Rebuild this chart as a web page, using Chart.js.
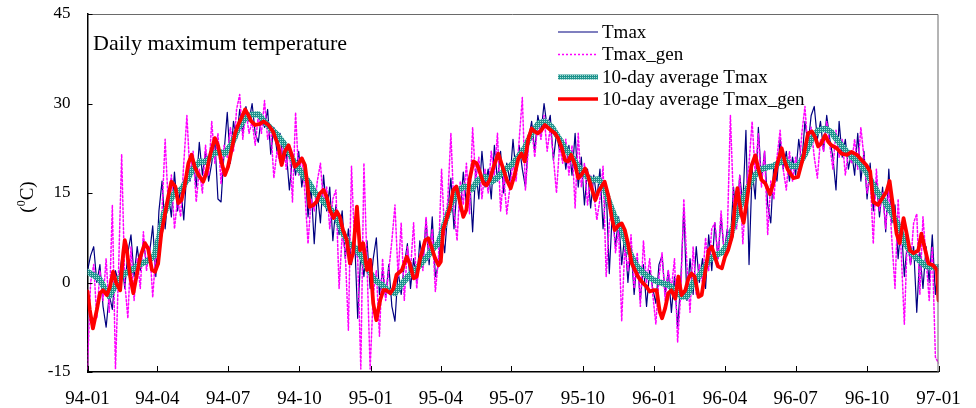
<!DOCTYPE html>
<html>
<head>
<meta charset="utf-8">
<script src="https://cdn.jsdelivr.net/npm/chart.js@4/dist/chart.umd.min.js"></script>
<style>
    html, body { margin: 0; padding: 0; background: #fff; }
    #wrap { position: relative; width: 976px; height: 408px; }
</style>
</head>
<body>
<div id="wrap"><canvas id="tmaxChart"></canvas></div>
<script>
// x axis: days since 1994-01-01, one tick per quarter
const quarterDays = [0, 90, 181, 273, 365, 455, 546, 638, 730, 821, 912, 1004, 1096]
const quarterLabels = ["94-01", "94-04", "94-07", "94-10", "95-01", "95-04", "95-07", "95-10", "96-01", "96-04", "96-07", "96-10", "97-01"]
const tempTicks = [-15, 0, 15, 30, 45]

// daily series, one value every 4 days
const dailyStep = 4

const tmaxObs = [
    2, 4.5, 6, 0, 3, -4, -7.5, -2, -4.5, 2,
    0, 4, -1, 5, 8, 1, 6, 2, 7, 3,
    5, 9.5, 1, 12, 17, 9, 15, 11, 18.5, 12,
    16, 10.5, 19, 17, 21, 16, 23.5, 18, 22, 17,
    20, 24, 14, 13.5, 22, 28.5, 20, 27, 24, 29,
    25, 29.5, 27, 30, 25, 23.5, 28, 26, 29, 21.5,
    26, 22, 25, 20, 22, 15.5, 21, 18, 22, 16,
    20, 11, 16, 6.5, 15, 10, 18, 12, 16, 7,
    13, 8, 12, 4, 9, 3, 7.5, -6, 5, 1,
    7, -1, 4, 7.5, -2, 2, -2.5, 3, -4, -6.5,
    2, -2, 3, 6.5, -1, 4, 0, 7, 3, 10.5,
    3, 11, 1, 3, 9, 5, 12, 17.5, 9, 16,
    12, 18.5, 13, 18, 8.5, 19, 14, 22, 16, 19,
    14, 23, 17, 22, 15, 20, 17, 24, 18, 23,
    19, 16, 24, 27, 22, 28, 25, 30, 26, 28,
    20.5, 25, 22, 24, 19, 23, 18, 25, 16, 21,
    13, 19, 12.5, 18, 14, 19, 9, 16, 1.5, 12,
    6, 11, 3, 8, 0, 6, -2, 4, -3, 3,
    -4, 2, -1, -3.5, 3, 4.5, -2, 2, -5, 1,
    -7.5, 0, 12.5, -3, 4, -2, 6, 0, 4, -1,
    8, 2, 10, 4, 11, 5, 9, 7, 16, 10,
    18, 13, 25.5, 3, 19, 14, 26, 17, 22, 13,
    10, 20, 17, 24, 19, 22, 17, 21, 18, 24,
    20, 27, 23, 28, 29.5, 24, 27, 22, 28, 24,
    21, 15.5, 27, 21, 24, 19, 22, 18, 25, 17,
    22, 14, 20, 12, 17, 11, 16, 8.5, 19, 10,
    13, 4, 10, 1, 7, 3, 6, -5, 5, -1,
    6, 0, 8, -2, 3
]

const tmaxGen = [
    -14.5, 0, 3, -6, 2, -3, 4, -5, 13, -14.5,
    2, 21.5, 0, -6, 6, -3, 4, -1, 8.5, 2,
    6, -2.5, 5, 3, 12, 24, 13, 18, 9, 14,
    11, 20, 28, 18, 22, 13.5, 19, 15, 23, 18,
    27, 20, 25, 16.5, 23, 21, 26, 22, 29, 31.5,
    24, 29, 25, 27, 23, 28, 25, 30.5, 24, 26,
    17.5, 22, 20, 24, 19, 23, 13.5, 28.5, 18, 21,
    15, 6.5, 14, 12, 17, 20, 13, 16, 9, 14,
    15.5, -1, 8, 5, -8, 19.5, 6, 4, -14.5, 20,
    3, -14.5, -2, 2, -9, 4, -3, 2, 7, 13,
    1, 10, -3, 6, 2, 10, -1, 5, 2, 11,
    4, 9, -1.5, 4, 19, 8, 14, 25, 12, 7,
    17, 13, 20, 11.5, 26, 17, 21, 14, 19, 15,
    22, 18, 25, 12, 18, 11.5, 16, 20, 17, 24,
    31, 15.5, 23, 26, 21, 27, 24, 28, 22, 26,
    21, 15, 23, 20, 24, 18, 23, 12.5, 25, 16,
    20, 13, 18, 15, 10.5, 14, 19.5, 1, 10, 12.5,
    5, 9, -6.5, 6, 2, 8, -1, 5, -4, 7,
    0, 4, -2, -7, 1, 5, -3, 2, -1, 4,
    -10, -2, 14, 3, -5, 6, -2, 3, 0, 7.5,
    2, 9, 10, 4, 12, 5, 8, 28, 13, 9,
    18, 6.5, 15, 20, 27, 18, 25, 16, 22, 8,
    17, 14, 21, 25.5, 19, 15.5, 22, 17, 21, 18,
    25, 29.5, 22, 26, 21, 17.5, 24, 22, 27, 23,
    19, 25.5, 21, 24, 18, 22, 20, 24, 19, 26,
    21, 15, 18, 6.5, 19, 12, 15, 9, 16, 7,
    -1, 14, 5, -7, 8, 3, 10, 11.5, -2, 11,
    4, -3, 6, -12.5, -13.5
]

// 10-day running means as [day, value]
const avgObs = [
    [0, 1.8], [8, 1.2], [16, 0.5], [22, -1.0], [28, -2.3], [34, -1.0], [40, 0.6], [48, 1.5], [56, 2.0], [64, 2.8],
    [72, 3.3], [80, 3.8], [86, 4.5], [92, 7.5], [98, 11.4], [105, 13.5], [113, 15.2], [121, 15.6], [128, 17.2], [136, 19.1],
    [145, 20.3], [153, 20.2], [162, 21.6], [170, 21.9], [177, 21.6], [186, 23.3], [194, 25.8], [203, 27.5], [211, 28.1], [220, 28.2],
    [228, 27.0], [236, 25.8], [244, 24.8], [252, 23.5], [259, 21.9], [267, 20.0], [276, 18.3], [284, 17.0], [293, 15.0], [302, 13.8],
    [310, 12.7], [319, 11.4], [327, 8.8], [336, 6.6], [345, 5.8], [353, 4.3], [362, 2.1], [370, 0.4], [379, -0.4], [387, -1.3],
    [396, -1.8], [405, -0.2], [413, 1.0], [422, 2.1], [430, 3.2], [439, 4.6], [446, 5.8], [452, 6.6], [460, 9.9], [469, 13.5],
    [478, 15.5], [486, 16.1], [495, 15.6], [503, 17.2], [512, 17.7], [521, 16.9], [529, 17.7], [538, 18.9], [546, 19.7], [555, 21.1],
    [563, 22.5], [572, 25.0], [581, 26.7], [589, 27.0], [598, 26.1], [606, 24.4], [615, 22.5], [624, 21.1], [632, 19.4], [641, 18.0],
    [649, 17.2], [658, 17.3], [664, 16.4], [671, 13.8], [679, 11.0], [688, 8.8], [697, 5.4], [705, 3.2], [714, 1.8], [722, 1.0],
    [731, 0.3], [740, -0.1], [748, -0.4], [757, -1.3], [765, -2.4], [772, -2.3], [780, 0.0], [790, 1.5], [799, 3.5], [808, 4.6],
    [817, 5.0], [826, 6.8], [834, 10.5], [842, 13.2], [850, 15.8], [858, 17.7], [866, 18.9], [875, 19.3], [883, 19.5], [890, 20.0],
    [898, 20.5], [907, 19.5], [915, 19.5], [924, 21.5], [933, 24.2], [941, 25.5], [950, 25.8], [958, 25.2], [967, 23.6], [976, 22.2],
    [984, 21.1], [993, 20.2], [1002, 18.8], [1010, 16.8], [1019, 14.8], [1027, 13.5], [1036, 11.6], [1044, 9.6], [1053, 6.5], [1061, 5.0],
    [1070, 3.8], [1079, 2.8], [1087, 2.6], [1096, 2.5]
]

const avgGen = [
    [0, -1.5], [3, -4.6], [7, -7.7], [12, -4.6], [16, -1.8], [20, -1.3], [25, -2.1], [29, -0.7], [33, 1.8], [37, -0.1],
    [42, -1.3], [46, 4.9], [48, 7.1], [50, 6.0], [55, 1.0], [59, -1.8], [63, 1.0], [68, 4.3], [74, 6.6], [78, 5.7],
    [83, 2.1], [87, 1.8], [91, 3.2], [95, 8.2], [100, 11.6], [104, 14.4], [108, 16.9], [113, 16.1], [117, 13.3], [121, 13.8],
    [125, 16.1], [130, 20.0], [134, 21.4], [138, 19.4], [143, 18.0], [149, 16.9], [153, 18.3], [158, 21.4], [164, 24.2], [168, 23.0],
    [173, 20.0], [177, 18.0], [181, 19.4], [186, 22.5], [190, 25.0], [194, 26.4], [199, 27.8], [203, 29.0], [207, 28.1], [211, 27.0],
    [216, 26.4], [222, 26.6], [227, 27.0], [233, 26.4], [239, 25.3], [246, 22.8], [250, 19.7], [254, 21.9], [259, 23.0], [263, 21.4],
    [267, 19.4], [272, 20.0], [276, 20.8], [280, 19.7], [284, 15.5], [286, 12.7], [291, 13.0], [295, 13.5], [299, 14.9], [304, 15.5],
    [308, 14.4], [312, 12.2], [317, 10.8], [321, 11.9], [325, 11.0], [329, 8.8], [334, 7.1], [338, 3.2], [342, 4.9], [347, 12.7],
    [351, 5.4], [355, 6.6], [360, 2.1], [364, 3.8], [368, -3.5], [372, -6.3], [377, -2.9], [381, -1.3], [385, -1.3], [390, -1.8],
    [394, -1.0], [398, 1.3], [405, 2.1], [411, 4.3], [415, 3.2], [420, 0.7], [424, 1.0], [428, 3.8], [435, 7.1], [439, 7.4],
    [443, 6.0], [447, 4.3], [452, 2.9], [455, 3.5], [458, 8.8], [462, 10.5], [467, 12.7], [471, 15.5], [475, 16.1], [480, 13.3],
    [484, 11.0], [488, 12.2], [492, 17.2], [497, 20.3], [501, 20.0], [505, 18.6], [510, 16.6], [514, 16.3], [518, 17.2], [523, 19.4],
    [529, 21.6], [533, 20.0], [540, 17.2], [545, 15.8], [550, 18.0], [555, 20.8], [559, 21.6], [563, 20.3], [568, 24.2], [572, 25.8],
    [576, 25.3], [580, 25.0], [585, 25.6], [589, 26.4], [596, 25.6], [602, 25.0], [606, 24.2], [611, 22.5], [615, 20.5], [619, 20.3],
    [623, 21.4], [628, 19.7], [632, 17.5], [636, 18.0], [641, 19.1], [645, 17.7], [650, 15.5], [654, 13.8], [658, 15.3], [662, 16.1],
    [666, 16.9], [671, 14.4], [675, 11.0], [679, 8.8], [684, 9.6], [688, 9.9], [692, 8.8], [696, 6.6], [701, 3.2], [705, 2.1],
    [709, 1.0], [714, 0.1], [720, -0.7], [724, -1.5], [729, -1.3], [733, -1.3], [737, -4.9], [740, -6.0], [744, -4.3], [748, -1.8],
    [752, -1.3], [757, -2.7], [761, 1.0], [765, -2.1], [770, -1.3], [774, 0.7], [778, 1.5], [782, 1.0], [787, -2.4], [791, -2.1],
    [795, 1.3], [800, 5.4], [804, 6.0], [808, 4.3], [812, 2.7], [817, 2.4], [821, 4.3], [825, 5.4], [830, 7.7], [834, 13.0],
    [837, 15.8], [842, 11.5], [845, 10.0], [850, 14.5], [855, 19.5], [860, 21.3], [864, 19.1], [868, 17.2], [873, 16.6], [879, 14.8],
    [883, 16.5], [888, 19.7], [894, 22.5], [898, 20.3], [902, 18.9], [909, 17.5], [915, 17.7], [922, 21.1], [928, 25.0], [933, 25.3],
    [937, 24.4], [941, 22.8], [945, 23.3], [950, 24.7], [954, 23.6], [958, 23.0], [965, 22.5], [971, 21.6], [978, 21.4], [984, 21.9],
    [991, 21.4], [997, 20.5], [1003, 19.7], [1008, 18.6], [1012, 13.5], [1018, 13.0], [1025, 14.4], [1029, 15.2], [1033, 17.0], [1038, 12.2],
    [1042, 8.2], [1046, 6.6], [1051, 10.8], [1055, 8.2], [1059, 5.4], [1064, 4.9], [1070, 5.4], [1074, 8.2], [1079, 5.4], [1083, 3.2],
    [1089, 2.9], [1094, 2.1], [1096, -3.0]
]

const seriesNames = ["Tmax", "Tmax_gen", "10-day average Tmax", "10-day average Tmax_gen"]

const SERIF = "'Liberation Serif', 'Times New Roman', serif"
const NAVY = "#000080"
const MAGENTA = "#ff00ff"
const RED = "#ff0000"

const canvas = document.getElementById("tmaxChart")
const ctx2d = canvas.getContext("2d")

// checkered teal fill for the thick average band
function tealPattern() {
    const tile = document.createElement("canvas")
    tile.width = 2
    tile.height = 2
    const g = tile.getContext("2d")
    g.fillStyle = "#a9dbd6"
    g.fillRect(0, 0, 2, 2)
    g.fillStyle = "#1e948d"
    g.fillRect(0, 0, 1, 1)
    g.fillRect(1, 1, 1, 1)
    g.fillRect(1, 0, 1, 1)
    return ctx2d.createPattern(tile, "repeat")
}
const TEAL = tealPattern()

const dailyPoints = values => values.map((v, i) => ({ x: i * dailyStep, y: v }))
const pairPoints = pairs => pairs.map(([d, v]) => ({ x: d, y: v }))

// frame, inward ticks, in-plot title, legend and axis unit
const framePlugin = {
    id: "frame",
    afterDraw(chart) {
        const { ctx, chartArea: a, scales: { x, y } } = chart
        ctx.save()

        ctx.strokeStyle = "#6a6a6a"
        ctx.lineWidth = 1
        ctx.beginPath()
        ctx.moveTo(a.left, a.top + 0.5)
        ctx.lineTo(a.right - 0.5, a.top + 0.5)
        ctx.lineTo(a.right - 0.5, a.bottom)
        ctx.stroke()

        ctx.strokeStyle = "#000"
        quarterDays.forEach(d => {
            const px = Math.round(x.getPixelForValue(d)) + 0.5
            ctx.beginPath()
            ctx.moveTo(px, a.bottom)
            ctx.lineTo(px, a.bottom - 6)
            ctx.stroke()
        })
        tempTicks.forEach(v => {
            const py = Math.round(y.getPixelForValue(v)) + 0.5
            ctx.beginPath()
            ctx.moveTo(a.left, py)
            ctx.lineTo(a.left + 5, py)
            ctx.stroke()
        })

        ctx.fillStyle = "#000"
        ctx.textBaseline = "middle"
        ctx.textAlign = "left"
        ctx.font = `22px ${SERIF}`
        ctx.fillText("Daily maximum temperature", 93, 44)

        // legend
        const rows = [32, 54.5, 77, 99]
        const x0 = 558, x1 = 598
        const samples = [
            { color: NAVY, width: 1.2, dash: [] },
            { color: MAGENTA, width: 1.5, dash: [2, 2] },
            { color: TEAL, width: 5, dash: [] },
            { color: RED, width: 3.5, dash: [] }
        ]
        samples.forEach((s, i) => {
            ctx.strokeStyle = s.color
            ctx.lineWidth = s.width
            ctx.setLineDash(s.dash)
            ctx.beginPath()
            ctx.moveTo(x0, rows[i])
            ctx.lineTo(x1, rows[i])
            ctx.stroke()
        })
        ctx.setLineDash([])
        ctx.font = `19px ${SERIF}`
        seriesNames.forEach((name, i) => ctx.fillText(name, 602, rows[i] + 1))

        // unit label with superscript 0
        ctx.translate(28, 197)
        ctx.rotate(-Math.PI / 2)
        ctx.font = `19px ${SERIF}`
        const w1 = ctx.measureText("(").width
        ctx.font = `12px ${SERIF}`
        const w2 = ctx.measureText("0").width
        ctx.font = `19px ${SERIF}`
        const w3 = ctx.measureText("C)").width
        let cx = -(w1 + w2 + w3) / 2
        ctx.fillText("(", cx, 0)
        cx += w1
        ctx.font = `12px ${SERIF}`
        ctx.fillText("0", cx, -6)
        cx += w2
        ctx.font = `19px ${SERIF}`
        ctx.fillText("C)", cx, 0)

        ctx.restore()
    }
}

new Chart(canvas, {
    type: "line",
    data: {
        datasets: [
            {
                label: seriesNames[0],
                data: dailyPoints(tmaxObs),
                borderColor: NAVY,
                borderWidth: 1.2,
                order: 4
            },
            {
                label: seriesNames[1],
                data: dailyPoints(tmaxGen),
                borderColor: MAGENTA,
                borderWidth: 1.5,
                borderDash: [2, 2],
                order: 3
            },
            {
                label: seriesNames[2],
                data: pairPoints(avgObs),
                borderColor: TEAL,
                borderWidth: 6,
                order: 2
            },
            {
                label: seriesNames[3],
                data: pairPoints(avgGen),
                borderColor: RED,
                borderWidth: 3.8,
                order: 1
            }
        ]
    },
    options: {
        responsive: true,
        maintainAspectRatio: false,
        animation: false,
        events: [],
        elements: {
            point: { radius: 0 },
            line: { tension: 0, borderJoinStyle: "round", borderCapStyle: "round" }
        },
        layout: {
            padding: { top: 14, right: 37.5, left: 0, bottom: 0 }
        },
        plugins: {
            legend: { display: false },
            tooltip: { enabled: false }
        },
        scales: {
            x: {
                type: "linear",
                min: 0,
                max: 1096,
                afterBuildTicks: scale => {
                    scale.ticks = quarterDays.map(v => ({ value: v }))
                },
                afterFit: scale => {
                    scale.height = 36
                    scale.paddingLeft = 0
                    scale.paddingRight = 0
                },
                grid: { display: false, drawTicks: false },
                border: { display: true, color: "#000", width: 1.5 },
                ticks: {
                    autoSkip: false,
                    maxRotation: 0,
                    padding: 16,
                    color: "#000",
                    font: { family: SERIF, size: 19 },
                    callback: (value, index) => quarterLabels[index]
                }
            },
            y: {
                min: -15,
                max: 45,
                afterBuildTicks: scale => {
                    scale.ticks = tempTicks.map(v => ({ value: v }))
                },
                afterFit: scale => {
                    scale.width = 87.5
                    scale.paddingTop = 0
                    scale.paddingBottom = 0
                },
                grid: { display: false, drawTicks: false },
                border: { display: true, color: "#000", width: 1.5 },
                ticks: {
                    padding: 17,
                    color: "#000",
                    font: { family: SERIF, size: 17 }
                }
            }
        }
    },
    plugins: [framePlugin]
})
</script>
</body>
</html>
